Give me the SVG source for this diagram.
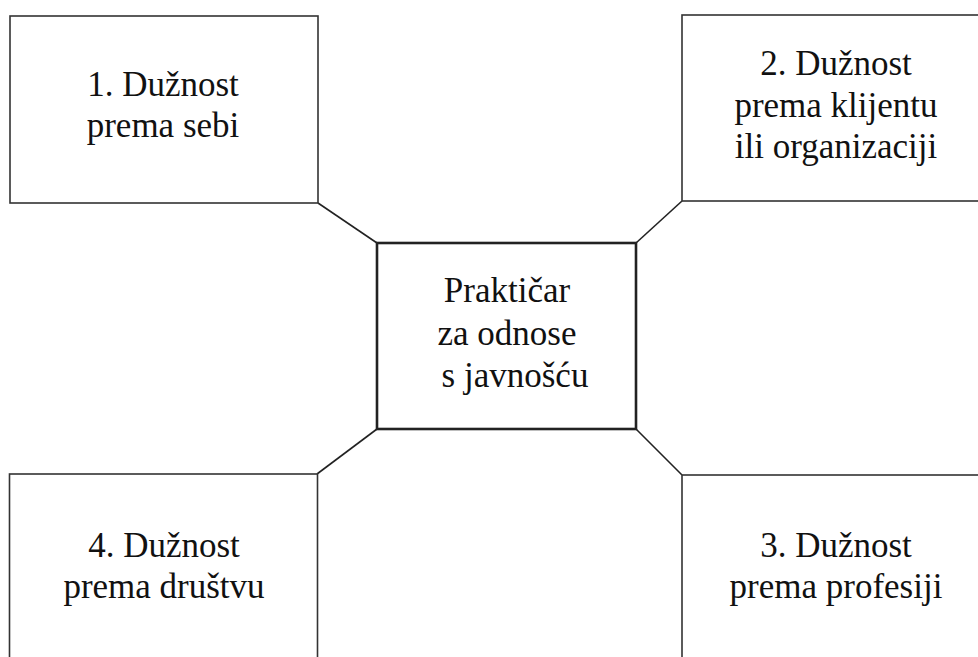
<svg xmlns="http://www.w3.org/2000/svg" width="978" height="657" viewBox="0 0 978 657">
<style>
.box{fill:#fff;stroke:#333;stroke-width:1.6}
.center{fill:#fff;stroke:#222;stroke-width:2.6}
.conn{stroke:#222;stroke-width:1.6;fill:none}
.t{font-size:35px;fill:#111;text-anchor:middle}
</style>
<rect width="978" height="657" fill="#fff"/>
<g id="connectors">
<line class="conn" x1="318" y1="203" x2="377" y2="243"/>
<line class="conn" x1="682" y1="201" x2="636" y2="243"/>
<line class="conn" x1="317" y1="474" x2="377" y2="429"/>
<line class="conn" x1="682" y1="475" x2="636" y2="429"/>
</g>
<g font-family="Liberation Serif, DejaVu Serif, serif">
<g id="node1">
<rect class="box" x="10" y="16" width="308" height="187"/>
<text class="t" x="163" y="96">1. Dužnost</text>
<text class="t" x="163" y="137">prema sebi</text>
</g>
<g id="node2">
<rect class="box" x="682" y="15" width="312" height="186"/>
<text class="t" x="836" y="75">2. Dužnost</text>
<text class="t" x="836" y="117">prema klijentu</text>
<text class="t" x="836" y="158">ili organizaciji</text>
</g>
<g id="center">
<rect class="center" x="377" y="243" width="259" height="186"/>
<text class="t" x="507" y="302">Praktičar</text>
<text class="t" x="507" y="345">za odnose</text>
<text class="t" x="515" y="387">s javnošću</text>
</g>
<g id="node3">
<rect class="box" x="682" y="475" width="312" height="200"/>
<text class="t" x="836" y="557">3. Dužnost</text>
<text class="t" x="836" y="598">prema profesiji</text>
</g>
<g id="node4">
<rect class="box" x="9.5" y="474" width="308" height="200"/>
<text class="t" x="164" y="557">4. Dužnost</text>
<text class="t" x="164" y="598">prema društvu</text>
</g>
</g>
</svg>
